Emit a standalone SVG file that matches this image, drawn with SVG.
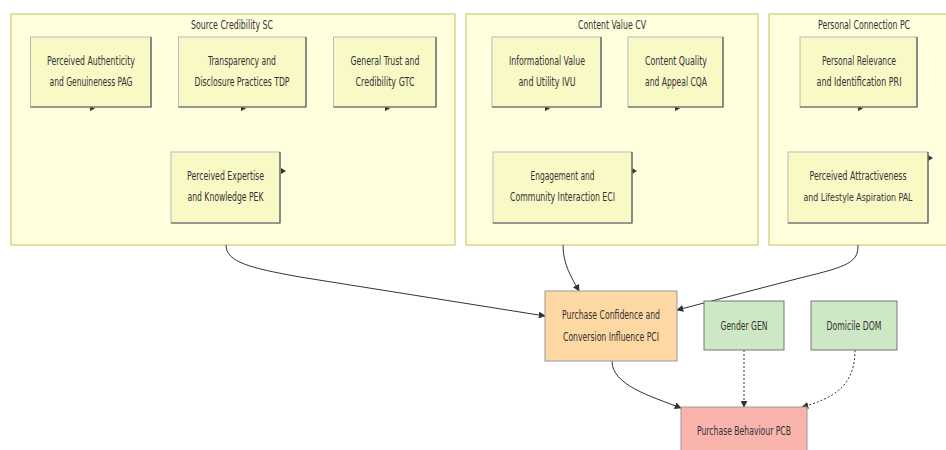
<svg xmlns="http://www.w3.org/2000/svg" width="946" height="450" viewBox="0 0 946 450">
<defs>
<marker id="ah" viewBox="0 0 10 10" refX="9" refY="5" markerWidth="7" markerHeight="7" orient="auto" markerUnits="userSpaceOnUse"><path d="M0,0 L10,5 L0,10 Z" fill="#333"/></marker>
<style>
text{font-family:"Liberation Sans Narrow","DejaVu Sans Condensed","Liberation Sans",sans-serif;font-size:12px;fill:#333;text-anchor:middle}
.sm{font-size:11px}
.cl{fill:#ffffde;stroke:#cccc77;stroke-width:1.2}
.nd{fill:#f9f9c6;stroke:#bbb;stroke-width:1}
.sh{fill:none;stroke:#555;stroke-width:1.2}
.or{fill:#fdd8a3;stroke:#999;stroke-width:1}
.gr{fill:#cde8c5;stroke:#777;stroke-width:1}
.pk{fill:#f9b4ae;stroke:#999;stroke-width:1}
.e{fill:none;stroke:#333;stroke-width:1;marker-end:url(#ah)}
.d{fill:none;stroke:#333;stroke-width:1;stroke-dasharray:2,2;marker-end:url(#ah)}
.tip{fill:#333}
</style>
</defs>
<rect width="946" height="450" fill="#fff"/>
<g id="SC">
<rect class="cl" x="11" y="14" width="444" height="231"/>
<text x="232" y="29" textLength="82" lengthAdjust="spacingAndGlyphs">Source Credibility SC</text>
</g>
<g id="CV">
<rect class="cl" x="466" y="14" width="292" height="231"/>
<text x="612" y="29" textLength="68" lengthAdjust="spacingAndGlyphs">Content Value CV</text>
</g>
<g id="PC">
<rect class="cl" x="769" y="14" width="190" height="231"/>
<text x="864" y="29" textLength="92" lengthAdjust="spacingAndGlyphs">Personal Connection PC</text>
</g>
<g id="connectors">
<path class="e" d="M226,245 C226,262 250,268 300,277 L545,316"/>
<path class="e" d="M563,245 C563,265 572,278 579,291"/>
<path class="e" d="M858,245 C858,262 850,266 800,278 L677,310"/>
<path class="e" d="M612,361 C612,385 650,396 681,408"/>
<path class="d" d="M744,350 L744,407"/>
<path class="d" d="M855,350 C855,385 835,398 802,407"/>
<path class="tip" d="M90,106 L95,108.5 L90,111 Z"/>
<path class="tip" d="M241,106 L246,108.5 L241,111 Z"/>
<path class="tip" d="M385,106 L390,108.5 L385,111 Z"/>
<path class="tip" d="M545,106 L550,108.5 L545,111 Z"/>
<path class="tip" d="M675,106 L680,108.5 L675,111 Z"/>
<path class="tip" d="M858,106 L863,108.5 L858,111 Z"/>
<path class="tip" d="M281,168 L286,171 L281,174 Z"/>
<path class="tip" d="M632,168 L637,171 L632,174 Z"/>
<path class="tip" d="M928,155 L933,158 L928,161 Z"/>
</g>
<g id="PAG">
<rect class="nd" x="30.5" y="37" width="120.5" height="70"/>
<path class="sh" d="M151,37 L151,107 L30.5,107"/>
<text x="91" y="65" textLength="88" lengthAdjust="spacingAndGlyphs">Perceived Authenticity</text>
<text x="91" y="86" textLength="83" lengthAdjust="spacingAndGlyphs">and Genuineness PAG</text>
</g>
<g id="TDP">
<rect class="nd" x="178.5" y="37" width="127.5" height="70"/>
<path class="sh" d="M306,37 L306,107 L178.5,107"/>
<text x="242" y="65" textLength="68" lengthAdjust="spacingAndGlyphs">Transparency and</text>
<text x="242" y="86" textLength="95" lengthAdjust="spacingAndGlyphs">Disclosure Practices TDP</text>
</g>
<g id="GTC">
<rect class="nd" x="333.5" y="37" width="102.5" height="70"/>
<path class="sh" d="M436,37 L436,107 L333.5,107"/>
<text x="385" y="65" textLength="69" lengthAdjust="spacingAndGlyphs">General Trust and</text>
<text x="385" y="86" textLength="59" lengthAdjust="spacingAndGlyphs">Credibility GTC</text>
</g>
<g id="PEK">
<rect class="nd" x="171" y="152" width="109" height="71"/>
<path class="sh" d="M280,152 L280,223 L171,223"/>
<text x="225.5" y="180" textLength="77" lengthAdjust="spacingAndGlyphs">Perceived Expertise</text>
<text x="225.5" y="201" textLength="76" lengthAdjust="spacingAndGlyphs">and Knowledge PEK</text>
</g>
<g id="IVU">
<rect class="nd" x="492" y="37" width="109" height="70"/>
<path class="sh" d="M601,37 L601,107 L492,107"/>
<text x="547" y="65" textLength="76" lengthAdjust="spacingAndGlyphs">Informational Value</text>
<text x="547" y="86" textLength="57" lengthAdjust="spacingAndGlyphs">and Utility IVU</text>
</g>
<g id="CQA">
<rect class="nd" x="628" y="37" width="95" height="70"/>
<path class="sh" d="M723,37 L723,107 L628,107"/>
<text x="676" y="65" textLength="62" lengthAdjust="spacingAndGlyphs">Content Quality</text>
<text x="676" y="86" textLength="62" lengthAdjust="spacingAndGlyphs">and Appeal CQA</text>
</g>
<g id="ECI">
<rect class="nd" x="493" y="152" width="139" height="71"/>
<path class="sh" d="M632,152 L632,223 L493,223"/>
<text x="562.5" y="180" textLength="64" lengthAdjust="spacingAndGlyphs">Engagement and</text>
<text x="562.5" y="201" textLength="105" lengthAdjust="spacingAndGlyphs">Community Interaction ECI</text>
</g>
<g id="PRI">
<rect class="nd" x="800" y="37" width="117" height="70"/>
<path class="sh" d="M917,37 L917,107 L800,107"/>
<text x="859" y="65" textLength="74" lengthAdjust="spacingAndGlyphs">Personal Relevance</text>
<text x="859" y="86" textLength="85" lengthAdjust="spacingAndGlyphs">and Identification PRI</text>
</g>
<g id="PAL">
<rect class="nd" x="788" y="152" width="140" height="71"/>
<path class="sh" d="M928,152 L928,223 L788,223"/>
<text x="858" y="180" textLength="97" lengthAdjust="spacingAndGlyphs">Perceived Attractiveness</text>
<text class="sm" x="858" y="201" textLength="109" lengthAdjust="spacingAndGlyphs">and Lifestyle Aspiration PAL</text>
</g>
<g id="PCI">
<rect class="or" x="545" y="291" width="132" height="70"/>
<text x="611" y="319" textLength="98" lengthAdjust="spacingAndGlyphs">Purchase Confidence and</text>
<text x="611" y="341" textLength="96" lengthAdjust="spacingAndGlyphs">Conversion Influence PCI</text>
</g>
<g id="GEN">
<rect class="gr" x="704" y="301" width="80" height="49"/>
<text x="744" y="330" textLength="47" lengthAdjust="spacingAndGlyphs">Gender GEN</text>
</g>
<g id="DOM">
<rect class="gr" x="811" y="301" width="86" height="49"/>
<text x="854" y="330" textLength="55" lengthAdjust="spacingAndGlyphs">Domicile DOM</text>
</g>
<g id="PCB">
<rect class="pk" x="681" y="407" width="126" height="60"/>
<text x="744" y="435" textLength="94" lengthAdjust="spacingAndGlyphs">Purchase Behaviour PCB</text>
</g>
</svg>
